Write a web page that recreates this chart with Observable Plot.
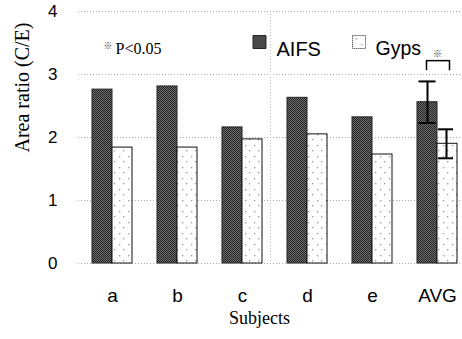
<!DOCTYPE html>
<html>
<head>
<meta charset="utf-8">
<script src="https://cdn.jsdelivr.net/npm/d3@7"></script>
<script src="https://cdn.jsdelivr.net/npm/@observablehq/plot@0.6"></script>
<style>
  html, body { margin: 0; padding: 0; background: #fff; }
  #chart { width: 462px; height: 339px; overflow: hidden; }
</style>
</head>
<body>
<div id="chart"></div>
<script>
// ---- data ----
const subjects = ["a", "b", "c", "d", "e", "AVG"];
const aifs = [2.76, 2.81, 2.16, 2.63, 2.32, 2.56];
const gyps = [1.84, 1.84, 1.97, 2.05, 1.73, 1.90];
const avgErrAIFS = 0.33;
const avgErrGyps = 0.23;
const yTicks = [0, 1, 2, 3, 4];
const seriesNames = ["AIFS", "Gyps"];
const yLabel = "Area ratio (C/E)";
const xLabel = "Subjects";
const sigNote = "P<0.05";
const sigMark = "※";
const bracketY = [3.06, 3.22];

const rowsA = subjects.map((s, i) => ({subject: s, value: aifs[i]}));
const rowsG = subjects.map((s, i) => ({subject: s, value: gyps[i]}));
const errA = [{subject: "AVG", lo: aifs[5] - avgErrAIFS, hi: aifs[5] + avgErrAIFS}];
const errG = [{subject: "AVG", lo: gyps[5] - avgErrGyps, hi: gyps[5] + avgErrGyps}];

const serif = "'Liberation Serif', 'DejaVu Serif', serif";
const sans = "'Liberation Sans', Arial, sans-serif";

const chart = Plot.plot({
  width: 462,
  height: 339,
  marginTop: 11,
  marginBottom: 76,
  marginLeft: 78,
  marginRight: 0,
  style: {background: "#fff", color: "#000"},
  x: {domain: subjects, range: [78, 470], paddingInner: 0.3865, paddingOuter: 0.199, axis: null},
  y: {domain: [0, 4], axis: null},
  marks: [
    // grid lines
    Plot.ruleY(yTicks, {stroke: "#aaa", strokeDasharray: "1,2", strokeWidth: 1}),
    Plot.ruleX([0], {frameAnchor: "left", x: null, stroke: "#bbb", strokeDasharray: "1,2"}),
    // bars
    Plot.barY(rowsA, {x: "subject", y: "value", insetRight: 20, fill: "url(#patA)", stroke: "#222", strokeWidth: 1}),
    Plot.barY(rowsG, {x: "subject", y: "value", insetLeft: 20, fill: "url(#patG)", stroke: "#111", strokeWidth: 1}),
    // error bars
    Plot.ruleX(errA, {x: "subject", y1: "lo", y2: "hi", dx: -10, stroke: "#000", strokeWidth: 2}),
    Plot.tickY(errA, {x: "subject", y: "hi", insetLeft: 1.5, insetRight: 21.5, stroke: "#000", strokeWidth: 2}),
    Plot.tickY(errA, {x: "subject", y: "lo", insetLeft: 1.5, insetRight: 21.5, stroke: "#000", strokeWidth: 2}),
    Plot.ruleX(errG, {x: "subject", y1: "lo", y2: "hi", dx: 9, stroke: "#000", strokeWidth: 2}),
    Plot.tickY(errG, {x: "subject", y: "hi", insetLeft: 21, insetRight: 4, stroke: "#000", strokeWidth: 2}),
    Plot.tickY(errG, {x: "subject", y: "lo", insetLeft: 21, insetRight: 4, stroke: "#000", strokeWidth: 2}),
    // significance bracket
    Plot.tickY([{subject: "AVG", y: bracketY[1]}], {x: "subject", y: "y", insetLeft: 9, insetRight: 8, stroke: "#000", strokeWidth: 1.5}),
    Plot.ruleX([{subject: "AVG"}], {x: "subject", y1: bracketY[0], y2: bracketY[1], dx: -11, stroke: "#000", strokeWidth: 1.5}),
    Plot.ruleX([{subject: "AVG"}], {x: "subject", y1: bracketY[0], y2: bracketY[1], dx: 12, stroke: "#000", strokeWidth: 1.5}),
    Plot.text([{subject: "AVG"}], {x: "subject", y: 3.33, text: () => sigMark, fontSize: 9, fill: "#333", fontFamily: "'Noto Sans CJK JP', sans-serif"}),
    // axes
    Plot.axisY({ticks: yTicks, tickSize: 0, tickPadding: 21, fontSize: 17, fontFamily: sans, tickFormat: d => String(d), label: null}),
    Plot.axisX({tickSize: 0, tickPadding: 25, fontSize: 19, fontFamily: sans, label: null}),
    Plot.text([yLabel], {frameAnchor: "left", rotate: -90, dx: -56, dy: 15, fontSize: 20, fontFamily: serif, fill: "#000"}),
    Plot.text([xLabel], {frameAnchor: "bottom", dx: -11, dy: 60, fontSize: 18, fontFamily: serif, fill: "#000"}),
    // legend / note
    Plot.text([sigMark], {frameAnchor: "top-left", dx: 25, dy: 31, fontSize: 9, fill: "#333", fontFamily: "'Noto Sans CJK JP', sans-serif"}),
    Plot.text([sigNote], {frameAnchor: "top-left", textAnchor: "start", dx: 37, dy: 31, fontSize: 16, fontFamily: serif, fill: "#000"}),
    Plot.dot([seriesNames[0]], {frameAnchor: "top-left", dx: 181, dy: 30.5, symbol: "square", r: 7.3, fill: "url(#patA)", stroke: "#222", strokeWidth: 1}),
    Plot.text([seriesNames[0]], {frameAnchor: "top-left", textAnchor: "start", dx: 198, dy: 30, fontSize: 20, fontFamily: sans, fill: "#000"}),
    Plot.dot([seriesNames[1]], {frameAnchor: "top-left", dx: 280.5, dy: 30.5, symbol: "square", r: 7.3, fill: "url(#patG)", stroke: "#222", strokeWidth: 1, strokeDasharray: "1,1"}),
    Plot.text([seriesNames[1]], {frameAnchor: "top-left", textAnchor: "start", dx: 297, dy: 30, fontSize: 19.5, fontFamily: sans, fill: "#000"})
  ]
});

// patterns
const ns = "http://www.w3.org/2000/svg";
const defs = document.createElementNS(ns, "defs");
defs.innerHTML = `
  <pattern id="patA" patternUnits="userSpaceOnUse" width="2" height="2">
    <rect width="2" height="2" fill="#707070"/>
    <rect x="0" y="0" width="1" height="1" fill="#222"/>
    <rect x="1" y="1" width="1" height="1" fill="#222"/>
  </pattern>
  <pattern id="patG" patternUnits="userSpaceOnUse" width="9" height="11">
    <rect width="9" height="11" fill="#fff"/>
    <rect x="2" y="2" width="1.3" height="1.3" fill="#999"/>
    <rect x="6" y="7" width="1.3" height="1.3" fill="#999"/>
  </pattern>`;
chart.insertBefore(defs, chart.firstChild);
document.getElementById("chart").appendChild(chart);
</script>
</body>
</html>
